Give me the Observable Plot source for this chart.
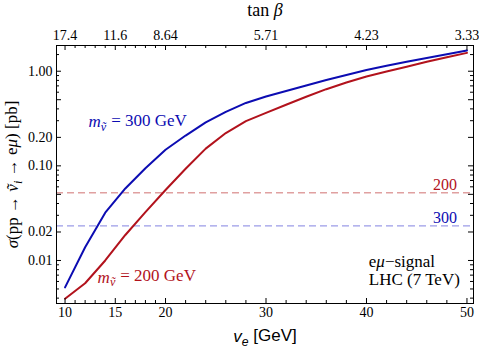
<!DOCTYPE html>
<html><head><meta charset="utf-8">
<script src="https://cdn.jsdelivr.net/npm/d3@7"></script>
<script src="https://cdn.jsdelivr.net/npm/@observablehq/plot@0.6"></script>
<style>body{margin:0;background:#fff}</style>
</head><body><div id="chart"></div>
<script>
// ---- data ----
const ve        = [10, 12, 14, 16, 18, 20, 22, 24, 26, 28, 30, 32, 34, 36, 38, 40, 42, 44, 46, 48, 50];
const sigma300  = [0.0052, 0.0138, 0.032, 0.0577, 0.0944, 0.148, 0.209, 0.288, 0.372, 0.462, 0.540, 0.619, 0.708, 0.807, 0.912, 1.03, 1.14, 1.26, 1.38, 1.51, 1.66];
const sigma200  = [0.00394, 0.00575, 0.0100, 0.0186, 0.0324, 0.0555, 0.0933, 0.152, 0.222, 0.297, 0.363, 0.442, 0.537, 0.646, 0.759, 0.881, 0.995, 1.117, 1.259, 1.406, 1.563];
const limitMass = ["200", "300"];
const limitValue = [0.052, 0.0232];
const xMajor = [10, 15, 20, 30, 40, 50];
const xMinor = [11, 12, 13, 14, 16, 17, 18, 19, 22, 24, 26, 28, 32, 34, 36, 38, 42, 44, 46, 48];
const tanBetaLabels = ["17.4", "11.6", "8.64", "5.71", "4.23", "3.33"];
const yMajor = [0.01, 0.02, 0.05, 0.1, 0.2, 0.5, 1];
const yMajorLabels = ["0.01", "0.02", "0.05", "0.10", "0.20", "0.50", "1.00"];
const yMinor = [0.004, 0.005, 0.006, 0.007, 0.008, 0.009, 0.03, 0.04, 0.06, 0.07, 0.08, 0.09, 0.3, 0.4, 0.6, 0.7, 0.8, 0.9, 1.5];

// ---- tables ----
const curves = [
  ...ve.map((v, i) => ({v, s: sigma300[i], m: "300"})),
  ...ve.map((v, i) => ({v, s: sigma200[i], m: "200"}))
];
const limits = limitMass.map((m, i) => ({m, s: limitValue[i]}));

const W = 479, H = 349, mL = 56, mR = 6, mT = 45, mB = 46;
const pW = W - mL - mR, pH = H - mT - mB;
const blue = "#0c0cb2", red = "#b2121c";
const blueDash = "#9c9ce8", redDash = "#e0a0a0";
const colorOf = m => m === "300" ? blue : red;
const serif = "'Liberation Serif', 'Times New Roman', serif";

const plot = Plot.plot({
  width: W, height: H,
  marginLeft: mL, marginRight: mR, marginTop: mT, marginBottom: mB,
  style: `font-family: ${serif}; font-size: 14px; background: white; overflow: visible; color: black;`,
  x: {domain: [9.15, 50.65]},
  y: {type: "log", domain: [0.00351, 1.87]},
  marks: [
    // dashed limit lines
    Plot.ruleY(limits, {y: "s", stroke: d => d.m === "300" ? blueDash : redDash, strokeWidth: 1.4, strokeDasharray: "7,4"}),
    Plot.text(limits, {x: () => 49.0, y: "s", text: "m", fill: d => colorOf(d.m), textAnchor: "end", dy: -8, fontSize: 16, fontFamily: serif}),
    // curves
    Plot.line(curves, {x: "v", y: "s", z: "m", stroke: d => colorOf(d.m), strokeWidth: 2}),
    // frame
    Plot.frame({stroke: "black", strokeWidth: 1}),
    // inward ticks
    Plot.ruleX(xMajor, {x: d => d, insetTop: pH - 5}),
    Plot.ruleX(xMinor, {x: d => d, insetTop: pH - 3}),
    Plot.ruleX(xMajor, {x: d => d, insetBottom: pH - 5}),
    Plot.ruleX(xMinor, {x: d => d, insetBottom: pH - 3}),
    Plot.ruleY(yMajor, {y: d => d, insetRight: pW - 5}),
    Plot.ruleY(yMinor, {y: d => d, insetRight: pW - 3}),
    Plot.ruleY(yMajor, {y: d => d, insetLeft: pW - 5}),
    Plot.ruleY(yMinor, {y: d => d, insetLeft: pW - 3}),
    // tick labels
    Plot.axisX({anchor: "bottom", ticks: xMajor, tickSize: 0, tickPadding: 4, tickFormat: d => String(d), label: null, fontSize: 14, fontFamily: serif}),
    Plot.axisX({anchor: "top", ticks: xMajor, tickSize: 0, tickPadding: 6, tickFormat: d => tanBetaLabels[xMajor.indexOf(d)], label: null, fontSize: 14, fontFamily: serif}),
    Plot.axisY({anchor: "left", ticks: yMajor, tickSize: 0, tickPadding: 4, tickFormat: d => yMajorLabels[yMajor.indexOf(d)], label: null, fontSize: 14, fontFamily: serif}),
    // axis titles (rich text filled in below)
    Plot.text(["@tanb"], {frameAnchor: "top", textAnchor: "middle", lineAnchor: "middle", dy: -35, text: d => d, fontSize: 18, fontFamily: serif}),
    Plot.text(["@ve"], {frameAnchor: "bottom", textAnchor: "middle", lineAnchor: "middle", dy: 33, text: d => d, fontSize: 17, fontFamily: "'Liberation Sans', Arial, sans-serif"}),
    Plot.text(["@ylab"], {frameAnchor: "left", textAnchor: "middle", lineAnchor: "middle", dx: -44, rotate: -90, text: d => d, fontSize: 17, fontFamily: serif}),
    // annotations
    Plot.text(["@m300"], {x: () => 12.34, y: () => 0.294, text: d => d, textAnchor: "start", fill: blue, fontSize: 17, fontFamily: serif}),
    Plot.text(["@m200"], {x: () => 13.24, y: () => 0.00668, text: d => d, textAnchor: "start", fill: red, fontSize: 17, fontFamily: serif}),
    Plot.text(["@emu"], {x: () => 40.23, y: () => 0.00964, text: d => d, textAnchor: "start", fontSize: 17, fontFamily: serif}),
    Plot.text(["LHC (7 TeV)"], {x: () => 40.23, y: () => 0.00622, text: d => d, textAnchor: "start", fontSize: 17, fontFamily: serif})
  ]
});

// rich text segments: [text, italic, subscript, dx]
const rich = {
  "@tanb": [["tan ", 0, 0], ["β", 1, 0]],
  "@ve":   [["v", 1, 0], ["e", 1, 1], [" [GeV]", 0, 0]],
  "@ylab": [["σ", 1, 0], ["(pp → ", 0, 0], ["ν", 1, 0], ["˜", 1, 0, "-0.36em"], ["i", 1, 1, "0.06em"], [" → e", 0, 0], ["μ", 1, 0], [") [pb]", 0, 0]],
  "@m300": [["m", 1, 0], ["ν", 1, 1], ["˜", 1, 1, "-0.36em"], [" = 300 GeV", 0, 0, "0.06em"]],
  "@m200": [["m", 1, 0], ["ν", 1, 1], ["˜", 1, 1, "-0.36em"], [" = 200 GeV", 0, 0, "0.06em"]],
  "@emu":  [["e", 0, 0], ["μ", 1, 0], ["−signal", 0, 0]]
};
d3.select(plot).selectAll("text").each(function() {
  const key = this.textContent;
  if (!rich[key]) return;
  const t = d3.select(this);
  t.text(null);
  let wasSub = false;
  for (const [s, it, sub, dx] of rich[key]) {
    const sp = t.append("tspan").text(s);
    if (it) sp.attr("font-style", "italic");
    if (sub) sp.attr("font-size", "0.72em");
    if (sub && !wasSub) sp.attr("dy", "0.3em");
    else if (!sub && wasSub) sp.attr("dy", "-0.3em");
    if (dx) sp.attr("dx", dx);
    wasSub = !!sub;
  }
});
document.getElementById("chart").appendChild(plot);
</script>
</body></html>
